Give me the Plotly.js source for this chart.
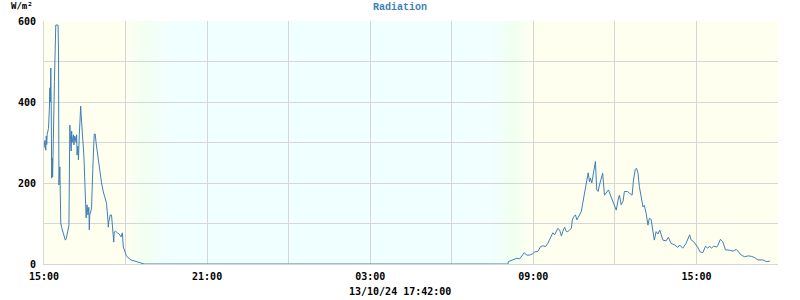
<!DOCTYPE html>
<html>
<head>
<meta charset="utf-8">
<script src="https://cdn.plot.ly/plotly-3.0.1.min.js"></script>
<style>
html,body{margin:0;padding:0;background:#fff;}
#chart{width:800px;height:300px;}
</style>
</head>
<body>
<div id="chart"></div>
<script>
// ---- data ----
const chartTitle = "Radiation";
const unitLabel = "W/m\u00b2";
const updatedLabel = "13/10/24 17:42:00";

const times = [
"2024-10-12 15:00","2024-10-12 15:02","2024-10-12 15:04","2024-10-12 15:05","2024-10-12 15:06",
"2024-10-12 15:07","2024-10-12 15:09","2024-10-12 15:10","2024-10-12 15:12","2024-10-12 15:13",
"2024-10-12 15:14","2024-10-12 15:15","2024-10-12 15:16","2024-10-12 15:17","2024-10-12 15:18",
"2024-10-12 15:19","2024-10-12 15:20","2024-10-12 15:22","2024-10-12 15:23","2024-10-12 15:24",
"2024-10-12 15:26","2024-10-12 15:29","2024-10-12 15:31","2024-10-12 15:32","2024-10-12 15:33",
"2024-10-12 15:35","2024-10-12 15:36","2024-10-12 15:37","2024-10-12 15:39","2024-10-12 15:41",
"2024-10-12 15:43","2024-10-12 15:46","2024-10-12 15:47","2024-10-12 15:49","2024-10-12 15:51",
"2024-10-12 15:54","2024-10-12 15:55","2024-10-12 15:57","2024-10-12 15:58","2024-10-12 16:00",
"2024-10-12 16:01","2024-10-12 16:02","2024-10-12 16:05","2024-10-12 16:06","2024-10-12 16:08",
"2024-10-12 16:11","2024-10-12 16:12","2024-10-12 16:13","2024-10-12 16:15","2024-10-12 16:16",
"2024-10-12 16:18","2024-10-12 16:19","2024-10-12 16:21","2024-10-12 16:22","2024-10-12 16:24",
"2024-10-12 16:26","2024-10-12 16:28","2024-10-12 16:30","2024-10-12 16:33","2024-10-12 16:35",
"2024-10-12 16:37","2024-10-12 16:39","2024-10-12 16:40","2024-10-12 16:41","2024-10-12 16:44",
"2024-10-12 16:45","2024-10-12 16:47","2024-10-12 16:48","2024-10-12 16:50","2024-10-12 16:51",
"2024-10-12 16:53","2024-10-12 16:55","2024-10-12 16:58","2024-10-12 17:01","2024-10-12 17:05",
"2024-10-12 17:07","2024-10-12 17:11","2024-10-12 17:15","2024-10-12 17:18","2024-10-12 17:21",
"2024-10-12 17:22","2024-10-12 17:23","2024-10-12 17:26","2024-10-12 17:29","2024-10-12 17:32",
"2024-10-12 17:34","2024-10-12 17:35","2024-10-12 17:38","2024-10-12 17:42","2024-10-12 17:46",
"2024-10-12 17:50","2024-10-12 17:53","2024-10-12 17:55","2024-10-12 17:57","2024-10-12 17:59",
"2024-10-12 18:02","2024-10-12 18:06","2024-10-12 18:12","2024-10-12 18:21","2024-10-12 18:28",
"2024-10-12 18:37","2024-10-12 18:41","2024-10-13 00:00","2024-10-13 08:04","2024-10-13 08:05",
"2024-10-13 08:15","2024-10-13 08:23","2024-10-13 08:30","2024-10-13 08:36","2024-10-13 08:40",
"2024-10-13 08:45","2024-10-13 08:52","2024-10-13 08:58","2024-10-13 09:03","2024-10-13 09:10",
"2024-10-13 09:16","2024-10-13 09:21","2024-10-13 09:27","2024-10-13 09:32","2024-10-13 09:36",
"2024-10-13 09:40","2024-10-13 09:43","2024-10-13 09:47","2024-10-13 09:51","2024-10-13 09:54",
"2024-10-13 09:58","2024-10-13 10:02","2024-10-13 10:05","2024-10-13 10:09","2024-10-13 10:13",
"2024-10-13 10:16","2024-10-13 10:20","2024-10-13 10:24","2024-10-13 10:26","2024-10-13 10:29",
"2024-10-13 10:33","2024-10-13 10:36","2024-10-13 10:39","2024-10-13 10:44","2024-10-13 10:46",
"2024-10-13 10:49","2024-10-13 10:53","2024-10-13 10:55","2024-10-13 10:59","2024-10-13 11:01",
"2024-10-13 11:04","2024-10-13 11:06","2024-10-13 11:09","2024-10-13 11:11","2024-10-13 11:14",
"2024-10-13 11:17","2024-10-13 11:20","2024-10-13 11:23","2024-10-13 11:26","2024-10-13 11:30",
"2024-10-13 11:33","2024-10-13 11:37","2024-10-13 11:41","2024-10-13 11:46","2024-10-13 11:50",
"2024-10-13 11:54","2024-10-13 11:59","2024-10-13 12:03","2024-10-13 12:07","2024-10-13 12:10",
"2024-10-13 12:14","2024-10-13 12:18","2024-10-13 12:21","2024-10-13 12:28","2024-10-13 12:32",
"2024-10-13 12:38","2024-10-13 12:41","2024-10-13 12:45","2024-10-13 12:48","2024-10-13 12:51",
"2024-10-13 12:54","2024-10-13 12:58","2024-10-13 13:02","2024-10-13 13:05","2024-10-13 13:09",
"2024-10-13 13:13","2024-10-13 13:16","2024-10-13 13:20","2024-10-13 13:24","2024-10-13 13:27",
"2024-10-13 13:31","2024-10-13 13:35","2024-10-13 13:39","2024-10-13 13:42","2024-10-13 13:46",
"2024-10-13 13:53","2024-10-13 13:58","2024-10-13 14:04","2024-10-13 14:12","2024-10-13 14:19",
"2024-10-13 14:23","2024-10-13 14:30","2024-10-13 14:37","2024-10-13 14:45","2024-10-13 14:48",
"2024-10-13 14:54","2024-10-13 15:00","2024-10-13 15:03","2024-10-13 15:08","2024-10-13 15:14",
"2024-10-13 15:20","2024-10-13 15:25","2024-10-13 15:29","2024-10-13 15:33","2024-10-13 15:38",
"2024-10-13 15:45","2024-10-13 15:47","2024-10-13 15:53","2024-10-13 15:58","2024-10-13 16:04",
"2024-10-13 16:13","2024-10-13 16:21","2024-10-13 16:28","2024-10-13 16:32","2024-10-13 16:39",
"2024-10-13 16:46","2024-10-13 16:54","2024-10-13 17:01","2024-10-13 17:08","2024-10-13 17:16",
"2024-10-13 17:27","2024-10-13 17:34","2024-10-13 17:42"
];

const radiation = [
286,305,281,316,295,
320,331,335,388,435,
400,484,380,212,262,
215,330,390,450,511,
590,590,590,528,195,
240,160,101,90,82,
74,65,59,62,72,
85,95,343,311,279,
328,300,319,294,316,
300,319,269,291,257,
320,350,390,368,343,
300,269,188,114,146,
121,140,84,121,133,
138,212,265,300,321,
321,299,274,240,215,
200,178,165,150,109,
91,104,121,121,84,
54,79,81,77,74,
67,77,42,35,27,
20,15,10,7,5,
2,0,0,0,6,
10,14,13,22,28,
22,22,25,30,31,
43,45,43,51,61,
67,77,72,84,88,
84,69,80,91,80,
80,84,88,109,117,
121,109,115,125,130,
150,175,195,220,225,
203,212,200,216,240,
253,183,179,195,216,
224,170,175,183,170,
158,146,133,158,170,
146,155,179,179,175,
170,207,234,236,224,
191,162,141,145,125,
96,113,110,84,59,
80,74,84,74,59,
57,66,51,47,41,
47,39,51,72,60,
55,47,41,30,28,
44,39,44,39,44,
42,46,61,55,35,
34,32,36,31,22,
18,20,19,16,10,
10,6,7
];

// axis range
const xStart = "2024-10-12 15:00";
const xEnd = "2024-10-13 18:00";

// ---- helpers (styling only) ----
function toMs(s){
  const [d,t] = s.split(" ");
  const [Y,M,D] = d.split("-").map(Number);
  const [h,m] = t.split(":").map(Number);
  return Date.UTC(Y,M-1,D,h,m);
}
function pad(n){return (n<10?"0":"")+n;}
function toStr(ms){
  const d = new Date(ms);
  return d.getUTCFullYear()+"-"+pad(d.getUTCMonth()+1)+"-"+pad(d.getUTCDate())+" "+
         pad(d.getUTCHours())+":"+pad(d.getUTCMinutes())+":"+pad(d.getUTCSeconds());
}
const IVORY=[255,255,240], HONEY=[240,255,240], AZURE=[240,255,255];
function mix(a,b,f){return "rgb("+a.map((v,i)=>Math.round(v+(b[i]-v)*f)).join(",")+")";}
function colorAt(stops, f){
  for(let i=0;i<stops.length-1;i++){
    const [p0,c0]=stops[i],[p1,c1]=stops[i+1];
    if(f<=p1){return mix(c0,c1,(f-p0)/(p1-p0));}
  }
  const last=stops[stops.length-1][1];
  return mix(last,last,0);
}
const shapes=[];
function rect(x0,x1,color){
  shapes.push({type:"rect",xref:"x",yref:"paper",x0:toStr(x0),x1:toStr(x1),y0:0,y1:1,
    fillcolor:color,line:{width:0},layer:"below"});
}
function gradient(a,b,stops,n){
  const A=toMs(a),B=toMs(b);
  for(let i=0;i<n;i++){
    const x0=A+(B-A)*i/n, x1=A+(B-A)*(i+1)/n + 1000;
    rect(x0,x1,colorAt(stops,(i+0.5)/n));
  }
}
rect(toMs(xStart), toMs("2024-10-12 18:00"), mix(IVORY,IVORY,0));
gradient("2024-10-12 18:00","2024-10-12 19:40",[[0,IVORY],[0.4,HONEY],[1,AZURE]],30);
rect(toMs("2024-10-12 19:40"), toMs("2024-10-13 06:00"), mix(AZURE,AZURE,0));
gradient("2024-10-13 06:00","2024-10-13 09:00",[[0,AZURE],[0.5,AZURE],[0.75,HONEY],[1,IVORY]],40);
rect(toMs("2024-10-13 09:00"), toMs(xEnd), mix(IVORY,IVORY,0));

const tickFont = {family:"DejaVu Sans Mono", size:10, color:"#000", weight:"bold"};
const gridCol = "#d6d6d6";
const lineCol = "#3f7fb8";

const trace = {
  x: times, y: radiation, type:"scatter", mode:"lines",
  line:{color:lineCol, width:1}, hoverinfo:"skip"
};

const layout = {
  width:800, height:300,
  margin:{l:44, r:22, t:21, b:36, pad:0},
  paper_bgcolor:"#fff", plot_bgcolor:"#fff",
  showlegend:false,
  shapes: shapes,
  title:{text:chartTitle, x:0.5, xanchor:"center", xref:"container",
         y:1-6/300, yanchor:"middle", yref:"container", pad:{t:0,b:0,l:0,r:0},
         font:{family:"Liberation Mono", size:10, color:lineCol, weight:"bold"}},
  xaxis:{
    type:"date", range:[xStart, xEnd],
    tick0:xStart, dtick:6*3600*1000, tickformat:"%H:%M",
    showgrid:true, gridcolor:gridCol, gridwidth:1,
    minor:{dtick:3*3600*1000, tick0:xStart, showgrid:true, gridcolor:gridCol, gridwidth:1},
    showline:true, linecolor:gridCol, linewidth:1,
    ticks:"outside", ticklen:3, tickcolor:"rgba(0,0,0,0)",
    tickfont:tickFont, zeroline:false, fixedrange:true
  },
  yaxis:{
    range:[0,600], dtick:200, tick0:0,
    showgrid:true, gridcolor:gridCol, gridwidth:1,
    minor:{dtick:100, showgrid:true, gridcolor:gridCol, gridwidth:1},
    showline:true, linecolor:gridCol, linewidth:1,
    ticks:"outside", ticklen:5, tickcolor:"rgba(0,0,0,0)",
    tickfont:tickFont, zeroline:false, fixedrange:true
  },
  annotations:[
    {text:unitLabel, xref:"paper", yref:"paper", x:-44/734, y:1+21/243, xanchor:"left", yanchor:"top",
     xshift:9, yshift:1, showarrow:false,
     font:{family:"DejaVu Sans Mono", size:9, color:"#000", weight:"bold"}},
    {text:updatedLabel, xref:"paper", yref:"paper", x:(400-44)/734, y:-(291-264)/243,
     xanchor:"center", yanchor:"middle", showarrow:false, font:tickFont}
  ]
};

Plotly.newPlot("chart",[trace],layout,{staticPlot:true, displayModeBar:false});
</script>
</body>
</html>
